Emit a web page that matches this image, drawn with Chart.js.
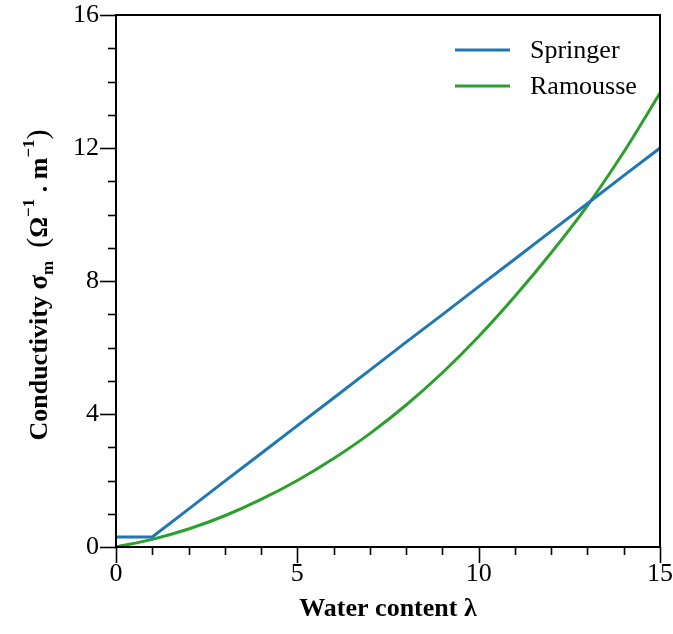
<!DOCTYPE html>
<html>
<head>
<meta charset="utf-8">
<script src="https://cdn.jsdelivr.net/npm/chart.js@4.4.1/dist/chart.umd.min.js"></script>
<style>
  html, body { margin: 0; padding: 0; background: #fff; }
  #wrap { width: 673px; height: 634px; }
</style>
</head>
<body>
<div id="wrap"><canvas id="myChart" width="673" height="634"></canvas></div>
<script>
// water content lambda
var lambdas = [0, 1, 2, 3, 4, 5, 6, 7, 8, 9, 10, 11, 12, 13, 14, 15];
// conductivity values
var springer = [0.3, 0.3, 1.14, 1.98, 2.81, 3.65, 4.48, 5.32, 6.16, 6.99, 7.83, 8.66, 9.5, 10.33, 11.17, 12.0];
var ramousse = [0, 0.23, 0.54, 0.94, 1.43, 2.0, 2.66, 3.41, 4.27, 5.24, 6.33, 7.54, 8.85, 10.27, 11.88, 13.65];
var xTicks = [0, 5, 10, 15];
var yTicks = [0, 4, 8, 12, 16];

var serif = "'Liberation Serif', 'Times New Roman', serif";

function toPoints(ys) {
  return lambdas.map(function(x, i) { return { x: x, y: ys[i] }; });
}

// minor/major ticks, frame, legend and the y title
var decor = {
  id: "decor",
  afterDraw: function(chart) {
    var c = chart.ctx;
    var a = chart.chartArea;
    var xs = chart.scales.x, ys = chart.scales.y;
    c.save();
    c.strokeStyle = "#000";
    c.lineWidth = 2;
    c.strokeRect(a.left, a.top, a.right - a.left, a.bottom - a.top);
    c.lineWidth = 1.6;
    for (var v = 0; v <= 15; v++) {
      var px = Math.round(xs.getPixelForValue(v)) + 0.5;
      var len = xTicks.indexOf(v) >= 0 ? 16 : 8;
      c.beginPath();
      c.moveTo(px, a.bottom);
      c.lineTo(px, a.bottom + len);
      c.stroke();
    }
    for (var w = 0; w <= 16; w++) {
      var py = Math.round(ys.getPixelForValue(w)) + 0.5;
      var l2 = yTicks.indexOf(w) >= 0 ? 16 : 8;
      c.beginPath();
      c.moveTo(a.left, py);
      c.lineTo(a.left - l2, py);
      c.stroke();
    }
    // legend
    chart.data.datasets.forEach(function(ds, i) {
      var y = a.top + 35 + i * 36;
      c.strokeStyle = ds.borderColor;
      c.lineWidth = 3;
      c.beginPath();
      c.moveTo(a.right - 205, y);
      c.lineTo(a.right - 150, y);
      c.stroke();
      c.fillStyle = "#000";
      c.font = "26px " + serif;
      c.textBaseline = "middle";
      c.textAlign = "left";
      c.fillText(ds.label, a.right - 130, y + 1);
    });
    // y axis title with sub/superscripts
    var parts = [
      { t: "Conductivity ", f: "bold 26px", dy: 0 },
      { t: "σ", f: "bold 27px", dy: 0 },
      { t: "m", f: "bold 17px", dy: 6 },
      { t: "  ", f: "bold 26px", dy: 0 },
      { t: "(", f: "30px", dy: 0 },
      { t: "Ω", f: "bold 26px", dy: 0 },
      { t: "−1", f: "bold 17px", dy: -13 },
      { t: " . m", f: "bold 26px", dy: 0 },
      { t: "−1", f: "bold 17px", dy: -13 },
      { t: ")", f: "30px", dy: 0 }
    ];
    var total = 0;
    parts.forEach(function(p) {
      c.font = p.f + " " + serif;
      p.w = c.measureText(p.t).width;
      total += p.w;
    });
    c.translate(47, (a.top + a.bottom) / 2 + 4);
    c.rotate(-Math.PI / 2);
    c.fillStyle = "#000";
    c.textBaseline = "alphabetic";
    c.textAlign = "left";
    var cx = -total / 2;
    parts.forEach(function(p) {
      c.font = p.f + " " + serif;
      c.fillText(p.t, cx, p.dy);
      cx += p.w;
    });
    c.restore();
  }
};

var ctx = document.getElementById("myChart");
var myChart = new Chart(ctx, {
  type: "line",
  data: {
    datasets: [
      {
        label: "Springer",
        data: toPoints(springer),
        borderColor: "#1f77b4",
        borderWidth: 3,
        pointRadius: 0,
        tension: 0,
        fill: false
      },
      {
        label: "Ramousse",
        data: toPoints(ramousse),
        borderColor: "#2ca02c",
        borderWidth: 3,
        pointRadius: 0,
        cubicInterpolationMode: "monotone",
        fill: false
      }
    ]
  },
  options: {
    responsive: false,
    animation: false,
    layout: { padding: { left: 0, right: 13, top: 15, bottom: 0 } },
    plugins: { legend: { display: false }, tooltip: { enabled: false } },
    scales: {
      x: {
        type: "linear",
        min: 0,
        max: 15,
        afterFit: function(s) {
          s.height = 87;
          s.paddingLeft = 0;
          s.paddingRight = 0;
        },
        grid: { display: false, drawTicks: false },
        border: { display: true, color: "#000", width: 2 },
        ticks: {
          stepSize: 5,
          padding: 12,
          color: "#000",
          maxRotation: 0,
          font: { family: serif, size: 26 }
        },
        title: {
          display: true,
          text: "Water content λ",
          color: "#000",
          padding: { top: 0, bottom: 9 },
          font: { family: serif, size: 26, weight: "bold" }
        }
      },
      y: {
        min: 0,
        max: 16,
        afterFit: function(s) {
          s.width = 116;
          s.paddingTop = 0;
          s.paddingBottom = 0;
        },
        grid: { display: false, drawTicks: false },
        border: { display: true, color: "#000", width: 2 },
        ticks: {
          stepSize: 4,
          padding: 17,
          color: "#000",
          font: { family: serif, size: 26 }
        }
      }
    }
  },
  plugins: [decor]
});
</script>
</body>
</html>
